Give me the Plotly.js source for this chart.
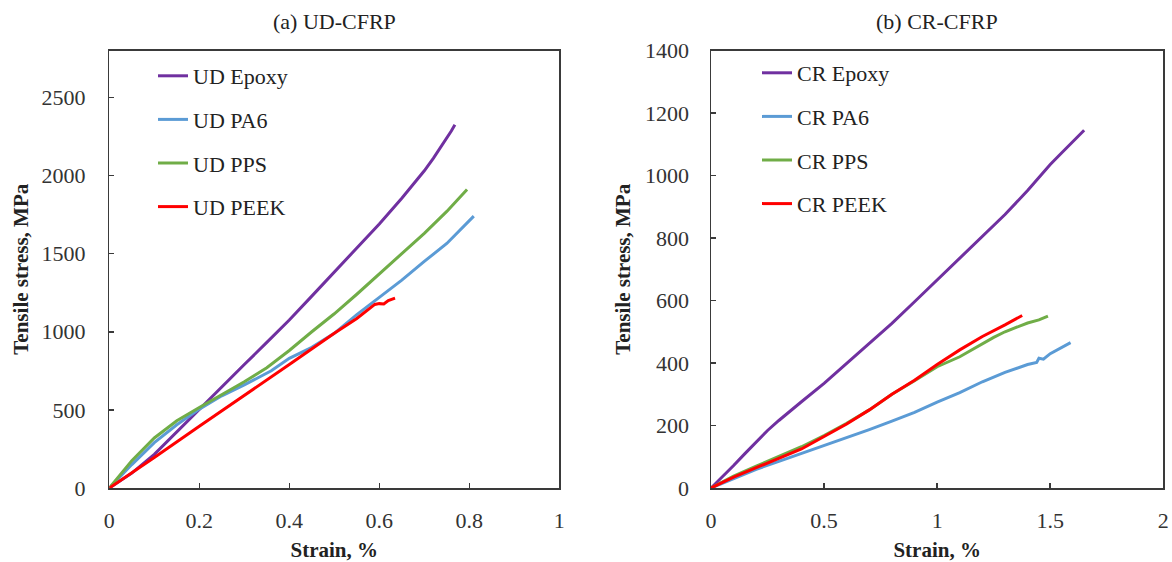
<!DOCTYPE html>
<html>
<head>
<meta charset="utf-8">
<script src="https://cdn.plot.ly/plotly-3.0.1.min.js"></script>
<style>html,body{margin:0;padding:0;background:#fff;}#chart{width:1172px;height:562px;}</style>
</head>
<body>
<div id="chart"></div>
<script>
// ---- (a) UD-CFRP data: strain (%) and tensile stress (MPa) ----
const udEpoxyStrain = [0, 0.05, 0.1, 0.15, 0.2, 0.25, 0.3, 0.35, 0.4, 0.45, 0.5, 0.55, 0.6, 0.65, 0.7, 0.72, 0.74, 0.76, 0.768];
const udEpoxyStress = [0, 95, 215, 360, 505, 648, 790, 932, 1075, 1228, 1382, 1535, 1690, 1855, 2030, 2110, 2195, 2285, 2325];

const udPA6Strain = [0, 0.05, 0.1, 0.15, 0.2, 0.25, 0.3, 0.33, 0.36, 0.4, 0.45, 0.5, 0.55, 0.6, 0.65, 0.7, 0.75, 0.81];
const udPA6Stress = [0, 150, 290, 405, 505, 590, 660, 705, 750, 830, 900, 990, 1110, 1220, 1330, 1450, 1565, 1740];

const udPPSStrain = [0, 0.05, 0.1, 0.15, 0.2, 0.25, 0.3, 0.35, 0.4, 0.45, 0.5, 0.55, 0.6, 0.65, 0.7, 0.75, 0.795];
const udPPSStress = [0, 175, 320, 430, 515, 595, 680, 770, 880, 1000, 1115, 1240, 1370, 1500, 1630, 1770, 1910];

const udPEEKStrain = [0, 0.05, 0.1, 0.2, 0.3, 0.4, 0.5, 0.55, 0.59, 0.6, 0.61, 0.62, 0.635];
const udPEEKStress = [0, 95, 195, 395, 590, 790, 990, 1085, 1175, 1180, 1178, 1200, 1215];

// ---- (b) CR-CFRP data ----
const crEpoxyStrain = [0, 0.05, 0.1, 0.15, 0.2, 0.25, 0.3, 0.35, 0.4, 0.5, 0.6, 0.7, 0.8, 0.9, 1.0, 1.1, 1.2, 1.3, 1.4, 1.45, 1.5, 1.55, 1.6, 1.65];
const crEpoxyStress = [0, 35, 72, 110, 148, 184, 216, 247, 276, 335, 398, 462, 527, 596, 665, 735, 805, 875, 952, 995, 1035, 1072, 1110, 1145];

const crPA6Strain = [0, 0.1, 0.2, 0.3, 0.4, 0.5, 0.6, 0.7, 0.8, 0.9, 1.0, 1.1, 1.2, 1.3, 1.4, 1.44, 1.45, 1.47, 1.5, 1.55, 1.59];
const crPA6Stress = [0, 30, 60, 85, 110, 135, 160, 187, 214, 242, 275, 305, 340, 370, 395, 402, 415, 412, 430, 448, 465];

const crPPSStrain = [0, 0.1, 0.2, 0.3, 0.4, 0.5, 0.6, 0.7, 0.8, 0.9, 1.0, 1.1, 1.2, 1.25, 1.3, 1.35, 1.4, 1.45, 1.49];
const crPPSStress = [0, 38, 70, 100, 132, 168, 207, 250, 300, 343, 388, 420, 462, 482, 500, 515, 528, 538, 550];

const crPEEKStrain = [0, 0.1, 0.2, 0.3, 0.4, 0.5, 0.6, 0.7, 0.8, 0.9, 1.0, 1.1, 1.2, 1.3, 1.376];
const crPEEKStress = [0, 35, 65, 95, 125, 165, 205, 250, 300, 345, 395, 442, 485, 522, 552];

// ---- names, colours and ticks ----
const udNames = ['UD Epoxy', 'UD PA6', 'UD PPS', 'UD PEEK'];
const crNames = ['CR Epoxy', 'CR PA6', 'CR PPS', 'CR PEEK'];
const colors = ['#7030A0', '#5B9BD5', '#70AD47', '#FF0000'];
const udXTicks = [0, 0.2, 0.4, 0.6, 0.8, 1];
const udYTicks = [0, 500, 1000, 1500, 2000, 2500];
const crXTicks = [0, 0.5, 1, 1.5, 2];
const crYTicks = [0, 200, 400, 600, 800, 1000, 1200, 1400];

const FONT = 'Liberation Serif, Times New Roman, serif';
const W = 1172, H = 562;
const px = v => v / W;
const py = v => 1 - v / H;

const udX = [udEpoxyStrain, udPA6Strain, udPPSStrain, udPEEKStrain];
const udY = [udEpoxyStress, udPA6Stress, udPPSStress, udPEEKStress];
const crX = [crEpoxyStrain, crPA6Strain, crPPSStrain, crPEEKStrain];
const crY = [crEpoxyStress, crPA6Stress, crPPSStress, crPEEKStress];

const traces = [];
udNames.forEach((n, i) => traces.push({
  type: 'scatter', mode: 'lines', name: n, x: udX[i], y: udY[i],
  xaxis: 'x', yaxis: 'y', legend: 'legend', legendgroup: 'u' + i,
  line: {color: colors[i], width: 3}
}));
crNames.forEach((n, i) => traces.push({
  type: 'scatter', mode: 'lines', name: n, x: crX[i], y: crY[i],
  xaxis: 'x2', yaxis: 'y2', legend: 'legend2', legendgroup: 'c' + i,
  line: {color: colors[i], width: 3}
}));

const axisCommon = {
  showgrid: false, zeroline: false, showline: true, mirror: true,
  linecolor: '#3a3a3a', linewidth: 1.5,
  ticks: 'inside', ticklen: 5, tickwidth: 1.5, tickcolor: '#3a3a3a',
  tickfont: {family: FONT, size: 22, color: '#333'},
  automargin: false
};
const titleFont = {family: FONT, size: 21, color: '#222', weight: 'bold'};

const yDomain = [py(488), py(50.5)];

const legendCommon = {
  xanchor: 'left', yanchor: 'top',
  bgcolor: 'rgba(0,0,0,0)', borderwidth: 0, tracegroupgap: 12,
  font: {family: FONT, size: 22, color: '#222'}, itemwidth: 30
};

const layout = {
  width: W, height: H,
  margin: {l: 0, r: 0, t: 0, b: 0},
  paper_bgcolor: '#fff', plot_bgcolor: '#fff',
  showlegend: true,
  xaxis: Object.assign({}, axisCommon, {
    domain: [px(109.3), px(559.3)], range: [0, 1], tickvals: udXTicks,
    ticktext: udXTicks.map(String), anchor: 'y', ticklabelstandoff: 12,
    title: {text: 'Strain, %', font: titleFont, standoff: 10}
  }),
  yaxis: Object.assign({}, axisCommon, {
    domain: yDomain, range: [0, 2800], tickvals: udYTicks,
    ticktext: udYTicks.map(String), anchor: 'x', ticklabelstandoff: 18,
    title: {text: 'Tensile stress, MPa', font: titleFont, standoff: 7}
  }),
  xaxis2: Object.assign({}, axisCommon, {
    domain: [px(711), px(1163.3)], range: [0, 2], tickvals: crXTicks,
    ticktext: crXTicks.map(String), anchor: 'y2', ticklabelstandoff: 12,
    title: {text: 'Strain, %', font: titleFont, standoff: 10}
  }),
  yaxis2: Object.assign({}, axisCommon, {
    domain: yDomain, range: [0, 1400], tickvals: crYTicks,
    ticktext: crYTicks.map(String), anchor: 'x2', ticklabelstandoff: 16,
    title: {text: 'Tensile stress, MPa', font: titleFont, standoff: 8}
  }),
  legend: Object.assign({}, legendCommon, {x: px(153), y: py(55)}),
  legend2: Object.assign({}, legendCommon, {x: px(757), y: py(52)}),
  annotations: [
    {text: '(a) UD-CFRP', xref: 'paper', yref: 'paper', x: px(334), y: py(21),
     xanchor: 'center', yanchor: 'middle', showarrow: false,
     font: {family: FONT, size: 22, color: '#222'}},
    {text: '(b) CR-CFRP', xref: 'paper', yref: 'paper', x: px(937), y: py(21),
     xanchor: 'center', yanchor: 'middle', showarrow: false,
     font: {family: FONT, size: 22, color: '#222'}}
  ]
};

Plotly.newPlot('chart', traces, layout, {displayModeBar: false, staticPlot: true});
</script>
</body>
</html>
